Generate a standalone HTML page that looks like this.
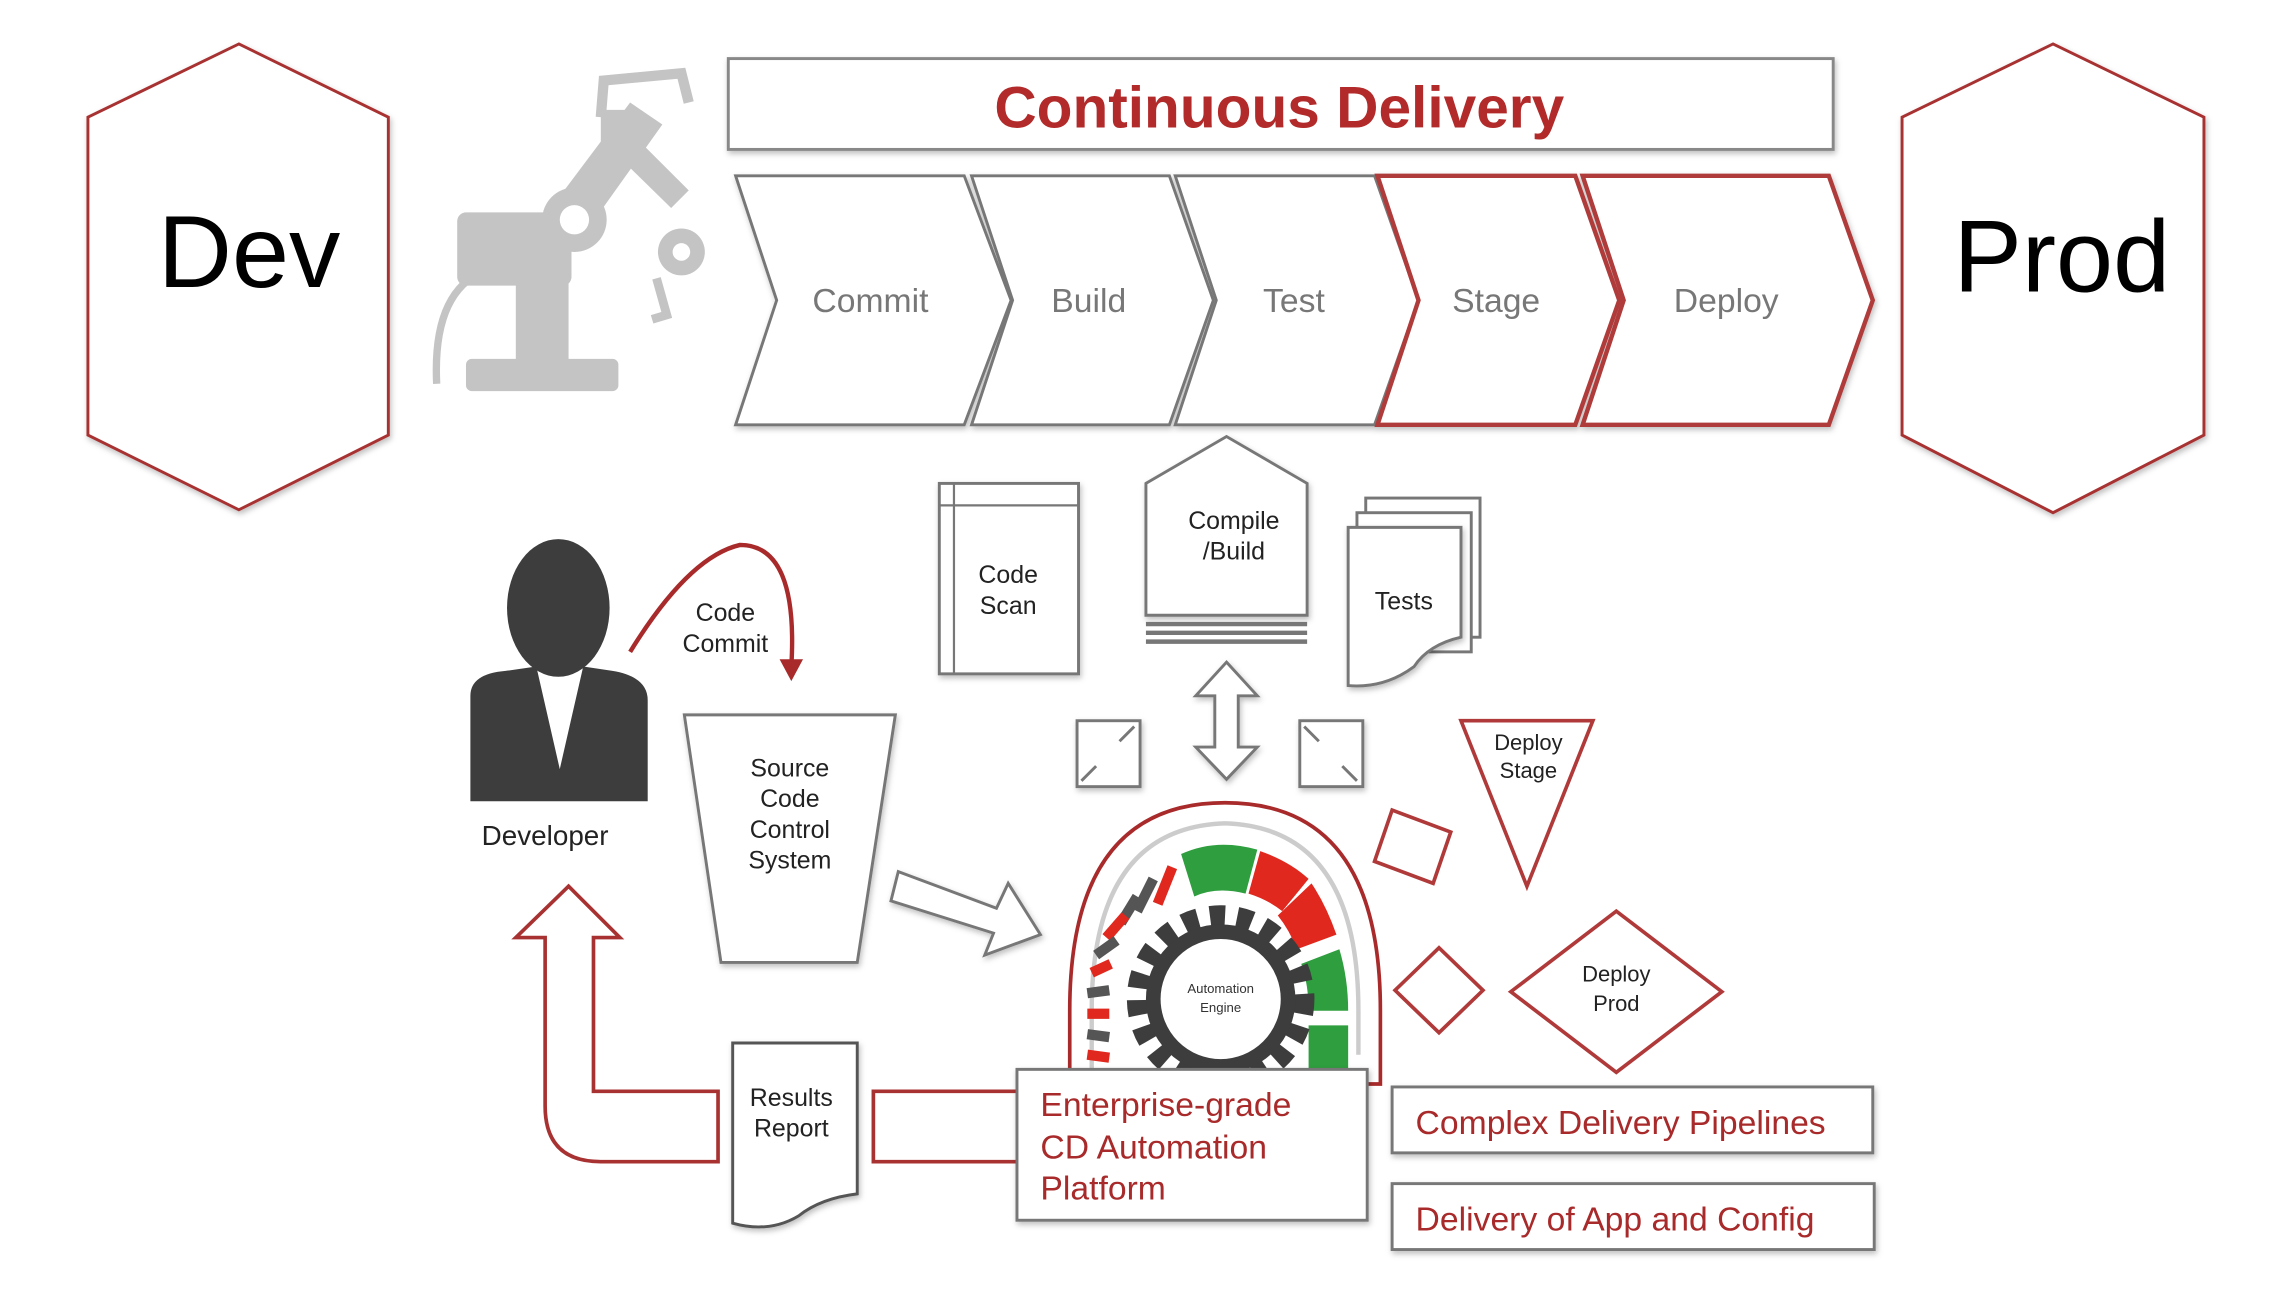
<!DOCTYPE html>
<html><head><meta charset="utf-8"><style>html,body{margin:0;padding:0;background:#fff}svg{display:block}text{font-family:"Liberation Sans",sans-serif}</style></head><body>
<svg width="2286" height="1314" viewBox="0 0 1560 897" preserveAspectRatio="none" xmlns="http://www.w3.org/2000/svg">
<defs><filter id="sh" x="-10%" y="-10%" width="130%" height="130%"><feDropShadow dx="1" dy="2" stdDeviation="2" flood-color="#000" flood-opacity="0.25"/></filter></defs>
<g fill="#fff" stroke="#a83232" stroke-width="2" filter="url(#sh)">
<polygon points="163,30 265,80 265,297 163,348 60,297 60,80"/>
<polygon points="1401,30 1504,80 1504,297 1401,350 1298,297 1298,80"/>
</g>
<text x="170" y="196" font-size="70" text-anchor="middle" fill="#000">Dev</text>
<text x="1407" y="199" font-size="70" text-anchor="middle" fill="#000">Prod</text>
<!-- robot -->
<g fill="#c4c4c4" stroke="none">
<rect x="318" y="245" width="104" height="22" rx="4"/>
<rect x="352" y="190" width="36" height="58"/>
<rect x="312" y="145" width="78" height="50" rx="6"/>
<polygon points="370,150 430,70 452,85 395,165"/>
<circle cx="392" cy="150" r="22"/><circle cx="392" cy="150" r="10" fill="#fff"/>
<polygon points="420,80 470,130 458,142 410,95"/>
<circle cx="465" cy="172" r="16"/><circle cx="465" cy="172" r="6" fill="#fff"/>
<rect x="410" y="75" width="30" height="40" rx="4"/>
</g>
<path d="M410,80 L412,55 L465,50 L470,70" fill="none" stroke="#c4c4c4" stroke-width="7"/>
<path d="M330,185 Q295,200 298,262" fill="none" stroke="#c4c4c4" stroke-width="5"/>
<path d="M448,190 L455,215 L445,218" fill="none" stroke="#c4c4c4" stroke-width="6"/>
<!-- title -->
<rect x="497" y="40" width="754" height="62" fill="#fff" stroke="#888" stroke-width="2" filter="url(#sh)"/>
<text x="873" y="87" font-size="40" font-weight="bold" text-anchor="middle" fill="#b22a2a">Continuous Delivery</text>
<!-- chevrons -->
<g stroke-width="2" fill="#fff" filter="url(#sh)">
<polygon stroke="#777" points="502,120 658,120 690,205 658,290 502,290 530,205"/>
<polygon stroke="#777" points="663,120 798,120 828,205 798,290 663,290 691,205"/>
<polygon stroke="#777" points="802,120 938,120 968,205 938,290 802,290 830,205"/>
<polygon stroke="#b03a3a" stroke-width="3" points="940,120 1075,120 1105,205 1075,290 940,290 968,205"/>
<polygon stroke="#b03a3a" stroke-width="3" points="1080,120 1248,120 1278,205 1248,290 1080,290 1108,205"/>
</g>
<g font-size="23" fill="#777" text-anchor="middle">
<text x="594" y="213">Commit</text><text x="743" y="213">Build</text><text x="883" y="213">Test</text><text x="1021" y="213">Stage</text><text x="1178" y="213">Deploy</text>
</g>
<!-- code scan -->
<g fill="#fff" stroke="#777" stroke-width="2" filter="url(#sh)">
<rect x="641" y="330" width="95" height="130"/>
</g>
<line x1="651" y1="330" x2="651" y2="460" stroke="#777" stroke-width="1.5"/>
<line x1="641" y1="345" x2="736" y2="345" stroke="#777" stroke-width="1.5"/>
<g font-size="17" fill="#222" text-anchor="middle"><text x="688" y="398">Code</text><text x="688" y="419">Scan</text></g>
<!-- compile -->
<polygon points="782,330 837,298 892,330 892,420 782,420" fill="#fff" stroke="#777" stroke-width="2" filter="url(#sh)"/>
<g stroke="#777" stroke-width="3"><line x1="782" y1="426" x2="892" y2="426"/><line x1="782" y1="432" x2="892" y2="432"/><line x1="782" y1="438" x2="892" y2="438"/></g>
<g font-size="17" fill="#222" text-anchor="middle"><text x="842" y="361">Compile</text><text x="842" y="382">/Build</text></g>
<!-- tests -->
<g fill="#fff" stroke="#777" stroke-width="2">
<rect x="932" y="340" width="78" height="95"/>
<rect x="926" y="350" width="78" height="95"/>
<path d="M920,360 H997 V435 Q975,440 965,455 Q945,470 920,468 Z" filter="url(#sh)"/>
</g>
<text x="958" y="416" font-size="17" fill="#222" text-anchor="middle">Tests</text>
<!-- developer -->
<path d="M321,547 V475 Q321,460 345,458 L366,455 L382,525 L398,455 L418,458 Q442,462 442,478 V547 Z" fill="#3d3d3d"/>
<ellipse cx="381" cy="415" rx="35" ry="47" fill="#3d3d3d"/>
<text x="372" y="577" font-size="19" fill="#222" text-anchor="middle">Developer</text>
<path d="M430,445 Q470,380 505,372 Q545,372 540,455" fill="none" stroke="#a82a2a" stroke-width="3"/>
<polygon points="532,450 548,450 540,465" fill="#a82a2a"/>
<g font-size="17" fill="#222" text-anchor="middle"><text x="495" y="424">Code</text><text x="495" y="445">Commit</text></g>
<!-- source -->
<polygon points="467,488 611,488 585,657 492,657" fill="#fff" stroke="#777" stroke-width="2" filter="url(#sh)"/>
<g font-size="17" fill="#222" text-anchor="middle"><text x="539" y="530">Source</text><text x="539" y="551">Code</text><text x="539" y="572">Control</text><text x="539" y="593">System</text></g>
<polygon points="613,595 680,620 688,603 710,638 672,652 678,637 608,615" fill="#fff" stroke="#777" stroke-width="2" filter="url(#sh)"/>
<!-- double arrow -->
<polygon points="837,452 858,475 845,475 845,510 858,510 837,532 816,510 829,510 829,475 816,475" fill="#fff" stroke="#777" stroke-width="2" filter="url(#sh)"/>
<g fill="#fff" stroke="#777" stroke-width="2" filter="url(#sh)">
<rect x="735" y="492" width="43" height="45"/><rect x="887" y="492" width="43" height="45"/>
</g>
<g stroke="#777" stroke-width="2" fill="none"><path d="M738,533 L748,523 M774,496 L764,506 M890,496 L900,506 M926,533 L916,523"/></g>
<!-- red small shapes -->
<g fill="#fff" stroke="#b03a3a" stroke-width="2.5">
<polygon points="950,553 990,568 978,603 938,588"/>
<polygon points="982,647 1012,676 982,705 952,676"/>
<polygon points="997,492 1087,492 1042,605" />
<polygon points="1103,622 1175,677 1103,732 1031,677"/>
</g>
<g font-size="15" fill="#222" text-anchor="middle"><text x="1043" y="512">Deploy</text><text x="1043" y="531">Stage</text><text x="1103" y="670">Deploy</text><text x="1103" y="690">Prod</text></g>
<!-- engine -->
<path d="M730,740 V690 Q730,548 836,548 Q942,548 942,690 V740 Z" fill="#fff" stroke="#a82a2a" stroke-width="2.5"/>
<path d="M745,740 V690 Q745,565 836,562 Q927,565 927,690 V720" fill="none" stroke="#ccc" stroke-width="3"/>
<path d="M806,583 Q830,572 858,580 L850,610 Q830,605 815,612 Z" fill="#2e9e3e"/>
<path d="M860,581 Q880,588 893,600 L875,622 Q865,614 852,610 Z" fill="#e0281e"/>
<path d="M895,603 Q905,618 912,638 L885,648 Q880,635 872,625 Z" fill="#e0281e"/>
<path d="M914,648 Q920,668 920,690 L893,690 Q893,672 888,658 Z" fill="#2e9e3e"/>
<path d="M920,700 L920,730 L893,730 L893,700 Z" fill="#2e9e3e"/>
<g stroke-width="7"><line x1="800" y1="592" x2="790" y2="617" stroke="#e0281e"/><line x1="787" y1="600" x2="776" y2="622" stroke="#555"/><line x1="776" y1="612" x2="765" y2="630" stroke="#555"/><line x1="768" y1="625" x2="755" y2="640" stroke="#e0281e"/><line x1="762" y1="642" x2="748" y2="652" stroke="#555"/><line x1="758" y1="658" x2="745" y2="664" stroke="#e0281e"/><line x1="757" y1="676" x2="742" y2="678" stroke="#555"/><line x1="757" y1="692" x2="742" y2="692" stroke="#e0281e"/><line x1="757" y1="708" x2="742" y2="706" stroke="#555"/><line x1="757" y1="722" x2="742" y2="720" stroke="#e0281e"/></g>
<circle cx="833" cy="682" r="55" fill="none" stroke="#3d3d3d" stroke-width="18" stroke-dasharray="10 8"/>
<circle cx="833" cy="682" r="46" fill="#fff" stroke="#3d3d3d" stroke-width="10"/>
<g font-size="9" fill="#333" text-anchor="middle"><text x="833" y="678">Automation</text><text x="833" y="691">Engine</text></g>
<!-- results report -->
<path d="M490,745 H405 V640 H423 L388,605 L352,640 H372 V755 Q372,793 410,793 H490 Z" fill="#fff" stroke="#a83232" stroke-width="2.5"/>
<path d="M694,745 H596 V793 H694" fill="#fff" stroke="#a83232" stroke-width="2.5"/>
<path d="M500,712 H585 V815 Q560,818 545,830 Q525,842 500,835 Z" fill="#fff" stroke="#555" stroke-width="2" filter="url(#sh)"/>
<g font-size="17" fill="#222" text-anchor="middle"><text x="540" y="755">Results</text><text x="540" y="776">Report</text></g>
<!-- boxes -->
<g fill="#fff" stroke="#777" stroke-width="2" filter="url(#sh)">
<rect x="694" y="730" width="239" height="103"/>
<rect x="950" y="742" width="328" height="45"/>
<rect x="950" y="808" width="329" height="45"/>
</g>
<g font-size="23" fill="#a82a2a"><text x="710" y="762">Enterprise-grade</text><text x="710" y="791">CD Automation</text><text x="710" y="819">Platform</text>
<text x="966" y="774">Complex Delivery Pipelines</text><text x="966" y="840">Delivery of App and Config</text></g>
</svg>
</body></html>
